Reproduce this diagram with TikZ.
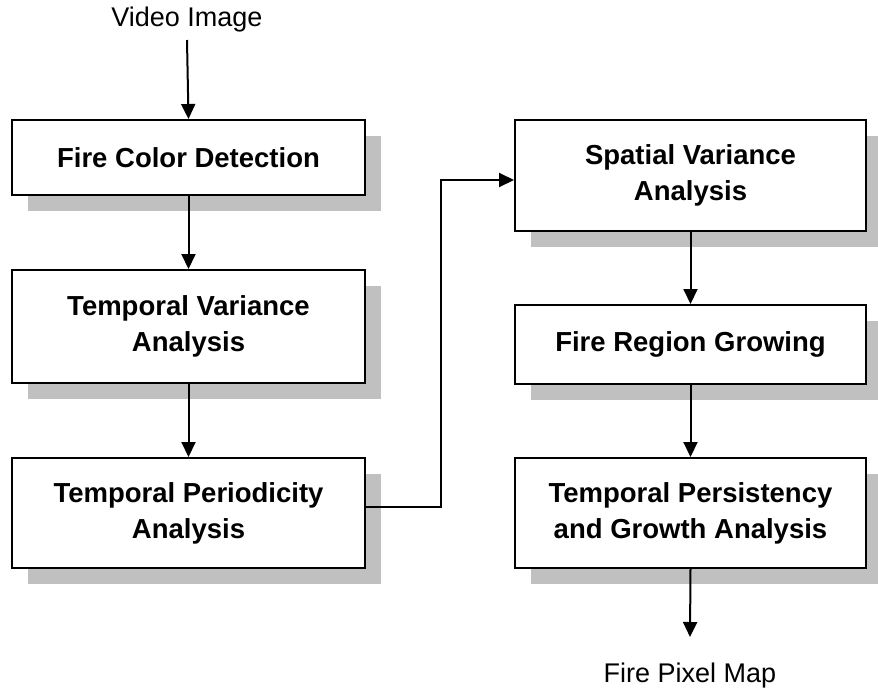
\documentclass[tikz,border=0pt]{standalone}
\usepackage{fontspec}
\setmainfont{Liberation Sans}
\usetikzlibrary{arrows.meta,shadows}
\definecolor{shade}{HTML}{C0C0C0}
\tikzset{
  stagebox/.style={draw=black, line width=2pt, fill=white, align=center,
    font=\fontsize{27.5}{36}\selectfont\bfseries, inner sep=0pt,
    drop shadow={shadow xshift=16pt, shadow yshift=-16pt, fill=shade, opacity=1}},
  flow/.style={line width=2pt, -{Triangle[length=15pt,width=14pt]}},
  caption/.style={font=\fontsize{27}{32}\selectfont}
}
\begin{document}
\begin{tikzpicture}[x=1pt,y=-1pt]
  \useasboundingbox (0,0) rectangle (878,694);
  % left column
  \node[stagebox, minimum width=353pt, minimum height=75pt] (color) at (188.5,157.5) {Fire Color Detection};
  \node[stagebox, minimum width=353pt, minimum height=113pt] (tvar) at (188.5,326.5) {Temporal Variance\\Analysis};
  \node[stagebox, minimum width=353pt, minimum height=110pt] (tper) at (188.5,513) {Temporal Periodicity\\Analysis};
  % right column
  \node[stagebox, minimum width=351pt, minimum height=111pt] (svar) at (690.5,175.5) {Spatial Variance\\Analysis};
  \node[stagebox, minimum width=351pt, minimum height=79pt] (grow) at (690.5,344.5) {Fire Region Growing};
  \node[stagebox, minimum width=351pt, minimum height=110pt] (pers) at (690.5,513) {Temporal Persistency\\and Growth Analysis};
  % inputs and outputs
  \node[caption] (video) at (187,20) {Video Image};
  \node[caption] (map) at (690,676) {Fire Pixel Map};
  \coordinate (vin) at (187,40);
  \coordinate (mout) at (690,637);
  \coordinate (bend) at (441,0);
  % connectors
  \draw[flow] (vin) -- (color.north);
  \draw[flow] (color.south) -- (tvar.north);
  \draw[flow] (tvar.south) -- (tper.north);
  \draw[flow] (tper.east |- 0,507) -| (bend |- 0,180) -- (svar.west |- 0,180);
  \draw[flow] (svar.south) -- (grow.north);
  \draw[flow] (grow.south) -- (pers.north);
  \draw[flow] (pers.south) -- (mout);
\end{tikzpicture}
\end{document}
